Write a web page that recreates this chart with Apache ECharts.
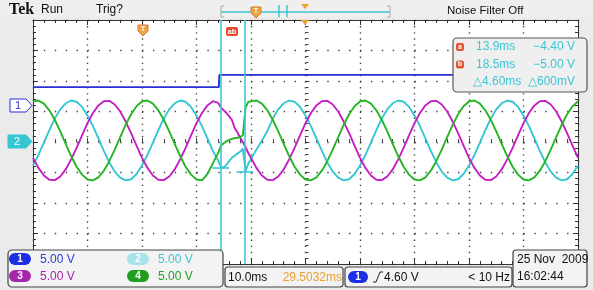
<!DOCTYPE html>
<html><head><meta charset="utf-8">
<script src="https://cdn.jsdelivr.net/npm/echarts@6.0.0/dist/echarts.min.js"></script>
<style>html,body{margin:0;padding:0;background:#ebebeb;overflow:hidden}#c{width:593px;height:290px}</style>
</head><body><div id="c"></div><script>
// ---- data (time in ms, 10 ms/div; vertical in screen divisions) ----
const times = [0,1,2,3,4,5,6,7,8,9,10,11,12,13,14,15,16,17,18,19,20,21,22,23,24,25,26,27,28,29,30,31,32,33,34,
  34.5,35,35.5,36,36.5,37,37.5,38,38.5,39,39.5,
  40,41,42,43,44,45,46,47,48,49,50,51,52,53,54,55,56,57,58,59,60,61,62,63,64,65,66,67,68,69,70,71,72,73,74,75,76,77,78,79,80,81,82,83,84,85,86,87,88,89,90,91,92,93,94,95,96,97,98,99,100];
const ch4Green = [1.33,1.36,1.26,1.04,0.73,0.35,-0.06,-0.46,-0.81,-1.07,-1.23,-1.26,-1.16,-0.94,-0.63,-0.25,0.16,0.56,0.91,1.17,
  1.33,1.36,1.26,1.04,0.73,0.35,-0.06,-0.46,-0.81,-1.07,-1.23,-1.26,
  -1.05,-0.70,-0.35,
  -0.12,-0.04,0.02,0.07,0.10,0.13,0.14,0.16,0.22,1.12,1.32,
  1.33,1.36,1.26,1.04,0.73,0.35,-0.06,-0.46,-0.81,-1.07,-1.23,-1.26,-1.16,-0.94,-0.63,-0.25,0.16,0.56,0.91,1.17,
  1.33,1.36,1.26,1.04,0.73,0.35,-0.06,-0.46,-0.81,-1.07,-1.23,-1.26,-1.16,-0.94,-0.63,-0.25,0.16,0.56,0.91,1.17,
  1.33,1.36,1.26,1.04,0.73,0.35,-0.06,-0.46,-0.81,-1.07,-1.23,-1.26,-1.16,-0.94,-0.63,-0.25,0.16,0.56,0.91,1.17,
  1.33];
const ch2Cyan = [-0.77,-0.42,-0.02,0.39,0.77,1.07,1.27,1.36,1.32,1.15,0.87,0.52,0.12,-0.29,-0.67,-0.97,-1.17,-1.26,-1.22,-1.05,
  -0.77,-0.42,-0.02,0.39,0.77,1.07,1.27,1.36,1.32,1.15,0.87,0.52,0.12,-0.29,
  -0.62,
  -0.82,-0.84,-0.74,-0.62,-0.52,-0.45,-0.38,-0.32,-0.22,-0.95,-0.72,
  -0.55,-0.25,0.05,0.36,
  0.77,1.07,1.27,1.36,1.32,1.15,0.87,0.52,0.12,-0.29,-0.67,-0.97,-1.17,-1.26,-1.22,-1.05,
  -0.77,-0.42,-0.02,0.39,0.77,1.07,1.27,1.36,1.32,1.15,0.87,0.52,0.12,-0.29,-0.67,-0.97,-1.17,-1.26,-1.22,-1.05,
  -0.77,-0.42,-0.02,0.39,0.77,1.07,1.27,1.36,1.32,1.15,0.87,0.52,0.12,-0.29,-0.67,-0.97,-1.17,-1.26,-1.22,-1.05,
  -0.77];
const ch3Magenta = [-0.52,-0.85,-1.10,-1.24,-1.25,-1.13,-0.90,-0.57,-0.19,0.22,0.62,0.95,1.20,1.34,1.35,1.23,1.00,0.67,0.29,-0.12,
  -0.52,-0.85,-1.10,-1.24,-1.25,-1.13,-0.90,-0.57,-0.19,0.22,0.62,0.95,1.20,1.34,
  1.28,
  1.12,1.04,0.95,0.84,0.72,0.46,0.32,0.14,0.00,-0.17,-0.36,
  -0.52,
  -0.85,-1.10,-1.24,-1.25,-1.13,-0.90,-0.57,-0.19,0.22,0.62,0.95,1.20,1.34,1.35,1.23,1.00,0.67,0.29,-0.12,
  -0.52,-0.85,-1.10,-1.24,-1.25,-1.13,-0.90,-0.57,-0.19,0.22,0.62,0.95,1.20,1.34,1.35,1.23,1.00,0.67,0.29,-0.12,
  -0.52,-0.85,-1.10,-1.24,-1.25,-1.13,-0.90,-0.57,-0.19,0.22,0.62,0.95,1.20,1.34,1.35,1.23,1.00,0.67,0.29,-0.12,
  -0.52];
const ch1Times = [0, 34.1, 34.2, 100];
const ch1Blue = [1.80, 1.80, 2.20, 2.20];
const cursorTimes = [34.44, 38.9];      // cursor a, cursor b (ms on screen)
const cursorLevels = [-0.85, -0.97];    // ch2 level at cursors (-4.40 V, -5.00 V)
const readoutRows = [['a','13.9ms','\u22124.40 V'],['b','18.5ms','\u22125.00 V'],['','\u25B34.60ms','\u25B3600mV']];
const channelScales = [['1','5.00 V'],['2','5.00 V'],['3','5.00 V'],['4','5.00 V']];

// ---- style ----
const C1='#2b2fd6', C2='#35c6d3', C3='#c51fc4', C4='#25b525', CUR='#3cc6d6', ORG='#eea54a';
const F='"Liberation Sans Narrow","Liberation Sans",Arial,sans-serif';
const chart = echarts.init(document.getElementById('c'));
const zip = (ts, vs) => ts.map((t,i)=>[t, vs[i]]);
const halfMark = 1.55;

function frameAxis(extra, split, dashArr){
  return Object.assign({
    type:'value', axisLabel:{show:false},
    axisLine:{show:true,onZero:false,lineStyle:{color:'#333',width:1}},
    axisTick:{show:true,inside:true,length:5,lineStyle:{color:'#333',width:1}},
    minorTick:{show:true,splitNumber:5,length:3,lineStyle:{color:'#333',width:1}},
    splitLine:{show:split,lineStyle:{color:'#444',width:1.4,type:dashArr}},
    minorSplitLine:{show:false}
  }, extra);
}
const xBase={min:0,max:100,interval:10};
const yBase={min:-4,max:4,interval:1};
const centerX = Object.assign(frameAxis(Object.assign({position:'bottom',offset:-122},xBase),false),
  {axisLine:{show:false,onZero:false},axisTick:{show:true,inside:true,length:4,lineStyle:{color:'#444'}},
   minorTick:{show:true,splitNumber:5,length:3,lineStyle:{color:'#444'}}});
const centerY = Object.assign(frameAxis(Object.assign({position:'left',offset:-272.5},yBase),false),
  {axisLine:{show:false,onZero:false},axisTick:{show:true,inside:true,length:4,lineStyle:{color:'#444'}},
   minorTick:{show:true,splitNumber:5,length:3,lineStyle:{color:'#444'}}});

// ---- graphics helpers ----
const G=[];
function rect(x,y,w,h,fill,stroke,r,lw){G.push({type:'rect',z:100,shape:{x,y,width:w,height:h,r:r||0},style:{fill,stroke:stroke||null,lineWidth:lw||1}});}
function txt(x,y,s,color,size,align,weight,font){G.push({type:'text',z:101,x,y,style:{text:s,fill:color,font:(weight||'normal')+' '+size+'px '+(font||F),align:align||'left',verticalAlign:'middle'}});}
function line(pts,color,w){G.push({type:'polyline',z:101,shape:{points:pts},style:{stroke:color,lineWidth:w||1,fill:null}});}
function poly(pts,fill,stroke){G.push({type:'polygon',z:101,shape:{points:pts},style:{fill,stroke:stroke||null,lineWidth:1}});}
function pill(x,y,w,h,fill,label){rect(x,y,w,h,fill,null,h/2);txt(x+w/2,y+h/2+0.5,label,'#fff',10,'center','bold');}
function shield(x,y){poly([[x-5,y-5],[x+5,y-5],[x+5,y+1],[x,y+6],[x-5,y+1]],ORG,'#d08030');txt(x,y-0.5,'T','#fff6e8',7,'center','bold');}

// top bar
rect(0,0,593,17,'#efefef');
txt(9,10,'Tek','#111',16,'left','bold','"Liberation Serif","DejaVu Serif",serif');
txt(41,10,'Run','#111',12);
txt(96,10,'Trig?','#111',12);
line([[224,6],[221,6],[221,17],[224,17]],'#aaa',1);
line([[387,6],[390,6],[390,17],[387,17]],'#aaa',1);
line([[221,12],[390,12]],CUR,1.5);
line([[279,5],[279,17]],CUR,1.5);
line([[287,5],[287,17]],CUR,1.5);
shield(256,12);
poly([[301,4],[309,4],[305,9]],'#f0a030');
txt(447,11,'Noise Filter Off','#111',11.5);
// graticule decorations
poly([[301,20],[309,20],[305,25]],'#f0a030');
shield(143,30);
rect(226,27,12,9,'#e5482a',null,2); txt(232,31.5,'ab','#fff',7.5,'center','bold');
// channel ground markers
poly([[10,99],[26,99],[32,105.5],[26,112],[10,112]],'#fff',C1); txt(18,106,'1',C1,11,'center');
poly([[8,135],[26,135],[32,141.5],[26,148],[8,148]],C2,C2); txt(17,142,'2','#fff',11,'center');
// cursor readout box
rect(453,38,134,54,'#efefef','#555',4,1.2);
readoutRows.forEach((r,i)=>{const y=47+i*17.5;
  if(r[0]){rect(456,y-4,8,8,'#e5542e',null,2);txt(460,y,r[0],'#fff',7,'center','bold');}
  txt(r[0]?476:473,y,r[1],CUR,12); txt(575,y,r[2],CUR,12,'right');});
// channel scale box
rect(8,250,215,37,'#f3f3f3','#444',4,1.2);
const pillCol=['#1c2ee6','#a9e3ea','#a326ab','#1f9e22'], txtCol=['#2c3bd6','#3fc4d4','#a326ab','#22a022'];
channelScales.forEach((c,i)=>{const cx=i%2?127:9, cy=i<2?253:270;
  pill(cx,cy,22,12,pillCol[i],c[0]); txt(cx+31,cy+6.5,c[1],txtCol[i],12);});
// timebase box
rect(225,267,118,20,'#f3f3f3','#444',3,1.2);
txt(228,277.5,'10.0ms','#111',12); txt(342,277.5,'29.5032ms','#e8a030',12,'right');
// trigger box
rect(345,267,167,20,'#f3f3f3','#444',3,1.2);
pill(348,271,20,12,'#1c2ee6','1');
line([[373,282],[376,282],[380,272],[383,272]],'#222',1);
txt(384,277.5,'4.60 V','#111',12); txt(510,277.5,'< 10 Hz','#111',12,'right');
// date box
rect(513,250,74,37,'#f3f3f3','#444',3,1.2);
txt(517,259.5,'25 Nov  2009','#111',12); txt(517,277,'16:02:44','#111',12);

const lineSeries=(name,data,color,extra)=>Object.assign({type:'line',name,data,showSymbol:false,symbol:'none',silent:true,animation:false,
  lineStyle:{color,width:1.9},itemStyle:{color}},extra||{});

chart.setOption({
  animation:false,
  backgroundColor:'#ebebeb',
  grid:{left:33,top:20,width:545,height:244,show:true,backgroundColor:'#ffffff',borderWidth:0,containLabel:false,outerBoundsMode:'none'},
  xAxis:[frameAxis(Object.assign({position:'bottom'},xBase),true,[1.4,4.7]),
         frameAxis(Object.assign({position:'top'},xBase),false),
         centerX],
  yAxis:[frameAxis(Object.assign({position:'left'},yBase),true,[1.4,9.5]),
         frameAxis(Object.assign({position:'right'},yBase),false),
         centerY],
  series:[
    lineSeries('CH1',zip(ch1Times,ch1Blue),C1),
    lineSeries('CH2',zip(times,ch2Cyan),C2,{markLine:{silent:true,symbol:['none','none'],label:{show:false},animation:false,
      lineStyle:{color:CUR,width:1.6,type:'solid'},
      data:[{xAxis:cursorTimes[0]},{xAxis:cursorTimes[1]},
        [{coord:[cursorTimes[0]-halfMark,cursorLevels[0]]},{coord:[cursorTimes[0]+halfMark,cursorLevels[0]]}],
        [{coord:[cursorTimes[1]-halfMark,cursorLevels[1]]},{coord:[cursorTimes[1]+halfMark,cursorLevels[1]]}]]}}),
    lineSeries('CH3',zip(times,ch3Magenta),C3),
    lineSeries('CH4',zip(times,ch4Green),C4)
  ],
  graphic:{elements:G}
});
</script></body></html>
